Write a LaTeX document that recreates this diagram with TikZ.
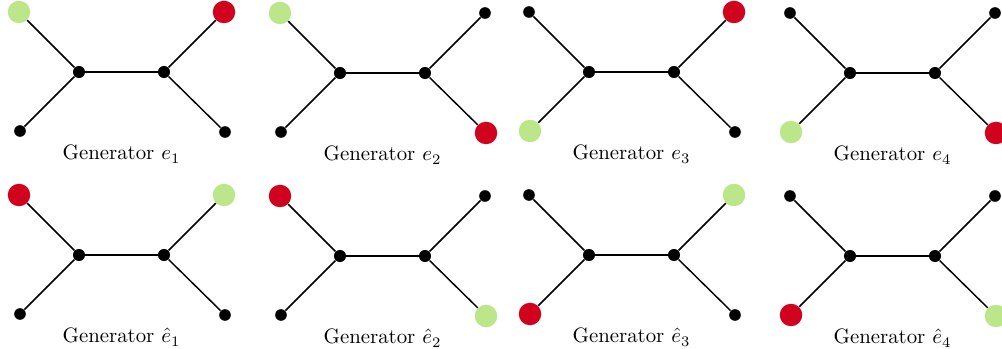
\documentclass[tikz,border=0pt]{standalone}
\definecolor{leafgreen}{RGB}{187,230,138}
\definecolor{leafred}{RGB}{208,2,30}
\tikzset{
  innerdot/.style={circle,fill=black,inner sep=0pt,minimum size=5.8pt},
  smallleaf/.style={circle,fill=black,inner sep=0pt,minimum size=5.6pt},
  greenleaf/.style={circle,fill=leafgreen,inner sep=0pt,minimum size=10.8pt},
  redleaf/.style={circle,fill=leafred,inner sep=0pt,minimum size=10.8pt},
  edge/.style={draw=black,line width=0.7pt},
  genlabel/.style={anchor=base,inner sep=0pt,font=\normalsize}
}
% #1 name, #2 x, #3 y, #4 TL, #5 TR, #6 BL, #7 BR, #8 label
\newcommand\genpanel[8]{%
  \begin{scope}[shift={(#2,#3)}]
    \node[innerdot] (#1L) at (0,0) {};
    \node[innerdot] (#1R) at (85,0) {};
    \node[#4] (#1TL) at (-60,-60) {};
    \node[#5] (#1TR) at (145,-60) {};
    \node[#6] (#1BL) at (-59,59) {};
    \node[#7] (#1BR) at (146,60) {};
    \draw[edge] (#1L) -- (#1R);
    \draw[edge] (#1L) -- (#1TL);
    \draw[edge] (#1L) -- (#1BL);
    \draw[edge] (#1R) -- (#1TR);
    \draw[edge] (#1R) -- (#1BR);
    \node[genlabel] (#1lab) at (42.5,88) {#8};
  \end{scope}}
\begin{document}
\begin{tikzpicture}[x=0.48pt,y=-0.48pt]
  \useasboundingbox (0,0) rectangle (1002,349);
  \genpanel{a}{79}{72}{greenleaf}{redleaf}{smallleaf}{smallleaf}{Generator $e_1$}
  \genpanel{b}{340}{73}{greenleaf}{smallleaf}{smallleaf}{redleaf}{Generator $e_2$}
  \genpanel{c}{589}{72}{smallleaf}{redleaf}{greenleaf}{smallleaf}{Generator $e_3$}
  \genpanel{d}{850}{73}{smallleaf}{smallleaf}{greenleaf}{redleaf}{Generator $e_4$}
  \genpanel{e}{79}{255}{redleaf}{greenleaf}{smallleaf}{smallleaf}{Generator $\hat{e}_1$}
  \genpanel{f}{340}{256}{redleaf}{smallleaf}{smallleaf}{greenleaf}{Generator $\hat{e}_2$}
  \genpanel{g}{589}{255}{smallleaf}{greenleaf}{redleaf}{smallleaf}{Generator $\hat{e}_3$}
  \genpanel{h}{850}{256}{smallleaf}{smallleaf}{redleaf}{greenleaf}{Generator $\hat{e}_4$}
\end{tikzpicture}
\end{document}
